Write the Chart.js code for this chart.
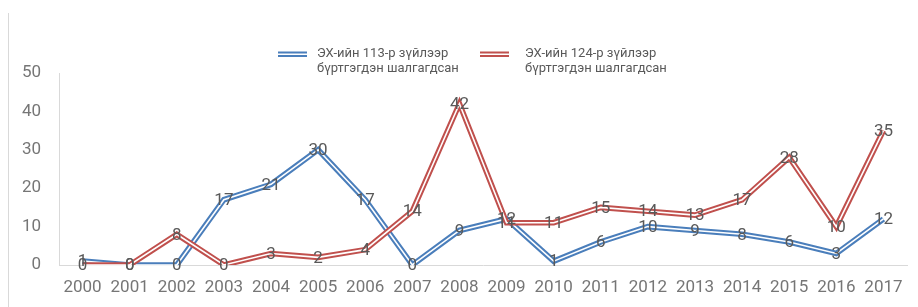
<!DOCTYPE html>
<html>
<head>
<meta charset="utf-8">
<script src="https://cdn.jsdelivr.net/npm/chart.js@4.4.1/dist/chart.umd.min.js"></script>
<style>
  body { margin: 0; background: #fff; }
  #wrap { width: 918px; height: 307px; }
</style>
</head>
<body>
<div id="wrap"><canvas id="lawChart" width="918" height="307"></canvas></div>
<script>
const years = ["2000","2001","2002","2003","2004","2005","2006","2007","2008","2009",
               "2010","2011","2012","2013","2014","2015","2016","2017"];
const art113 = [1, 0, 0, 17, 21, 30, 17, 0, 9, 12, 1, 6, 10, 9, 8, 6, 3, 12];
const art124 = [0, 0, 8, 0, 3, 2, 4, 14, 42, 11, 11, 15, 14, 13, 17, 28, 10, 35];
const label113 = ["ЭХ-ийн 113-р зүйлээр", "бүртгэгдэн шалгагдсан"];
const label124 = ["ЭХ-ийн 124-р зүйлээр", "бүртгэгдэн шалгагдсан"];

const blue = "#4a7ebb";
const red = "#c0504d";
const fontName = "Roboto, 'Liberation Sans', sans-serif";

// white stripe through each line, so it looks like Excel's double line
const doubleLine = {
  id: "doubleLine",
  afterDatasetDraw(chart, args) {
    const pts = args.meta.data;
    const ctx = chart.ctx;
    ctx.save();
    ctx.strokeStyle = "#ffffff";
    ctx.lineWidth = 1.6;
    ctx.lineJoin = "miter";
    ctx.beginPath();
    pts.forEach((p, i) => { if (i == 0) ctx.moveTo(p.x, p.y); else ctx.lineTo(p.x, p.y); });
    ctx.stroke();
    ctx.restore();
  }
};

// value labels centred on the points + legend + frame line
const extras = {
  id: "extras",
  beforeDraw(chart) {
    const ctx = chart.ctx;
    ctx.save();
    ctx.strokeStyle = "#d9d9d9";
    ctx.lineWidth = 1;
    ctx.beginPath();
    ctx.moveTo(8.5, 13);
    ctx.lineTo(8.5, 307);
    ctx.stroke();
    ctx.restore();
  },
  afterDraw(chart) {
    const ctx = chart.ctx;
    ctx.save();
    ctx.font = "17px " + fontName;
    ctx.fillStyle = "#595959";
    ctx.textAlign = "center";
    ctx.textBaseline = "middle";
    chart.data.datasets.forEach((ds, di) => {
      const meta = chart.getDatasetMeta(di);
      meta.data.forEach((p, i) => {
        ctx.fillText(String(ds.data[i]), p.x, p.y + 1);
      });
    });

    // legend
    const items = [
      { x: 278, tx: 317, color: blue, text: label113 },
      { x: 480, tx: 525, color: red, text: label124 }
    ];
    items.forEach(it => {
      ctx.strokeStyle = it.color;
      ctx.lineWidth = 2;
      ctx.beginPath();
      ctx.moveTo(it.x, 52.5); ctx.lineTo(it.x + 29, 52.5);
      ctx.moveTo(it.x, 56); ctx.lineTo(it.x + 29, 56);
      ctx.stroke();
      ctx.font = "13px " + fontName;
      ctx.fillStyle = "#595959";
      ctx.textAlign = "left";
      ctx.fillText(it.text[0], it.tx, 54);
      ctx.fillText(it.text[1], it.tx, 68.5);
    });
    ctx.restore();
  }
};

new Chart(document.getElementById("lawChart"), {
  type: "line",
  data: {
    labels: years,
    datasets: [{
      label: label113.join(" "),
      data: art113,
      borderColor: blue,
      borderWidth: 5.6,
      borderJoinStyle: "miter",
      pointRadius: 0,
      tension: 0,
      fill: false,
      order: 2
    }, {
      label: label124.join(" "),
      data: art124,
      borderColor: red,
      borderWidth: 5.6,
      borderJoinStyle: "miter",
      pointRadius: 0,
      tension: 0,
      fill: false,
      order: 1
    }]
  },
  options: {
    responsive: false,
    animation: false,
    devicePixelRatio: 1,
    layout: { padding: { top: 73, left: 0, right: 11, bottom: 0 } },
    plugins: {
      legend: { display: false },
      tooltip: { enabled: false }
    },
    scales: {
      x: {
        offset: true,
        grid: { display: false, drawTicks: false },
        border: { display: true, color: "#d9d9d9", width: 1 },
        ticks: {
          autoSkip: false, maxRotation: 0, padding: 13,
          color: "#767676", font: { family: fontName, size: 17 }
        },
        afterFit(s) { s.height = 42; }
      },
      y: {
        min: 0, max: 50,
        grid: { display: false, drawTicks: false },
        border: { display: true, color: "#d9d9d9", width: 1 },
        ticks: {
          stepSize: 10, padding: 18,
          color: "#767676", font: { family: fontName, size: 17 }
        },
        afterFit(s) { s.width = 59; }
      }
    }
  },
  plugins: [doubleLine, extras]
});
</script>
</body>
</html>
